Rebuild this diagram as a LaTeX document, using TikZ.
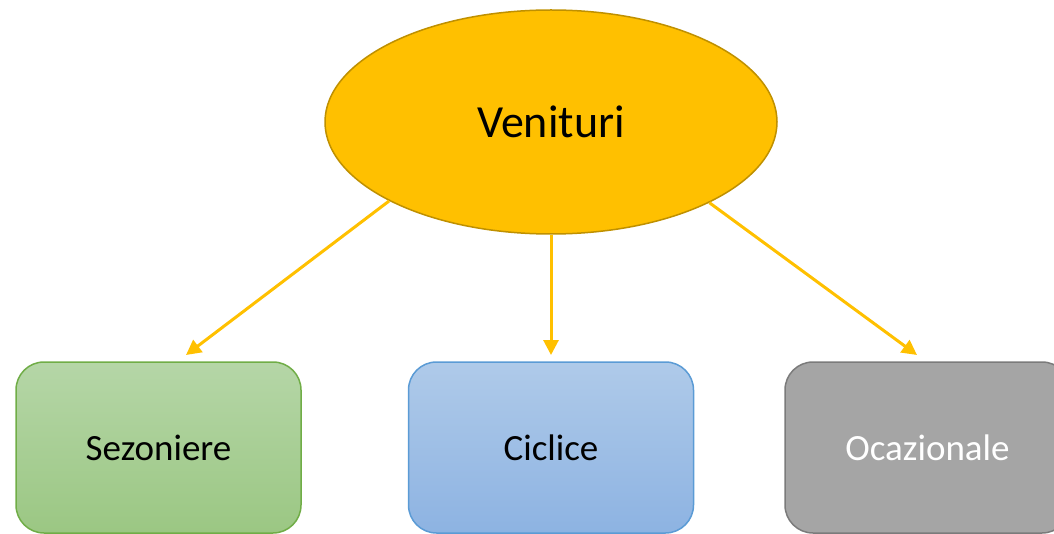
\documentclass[tikz,border=0pt]{standalone}
\usepackage{fontspec}
\setmainfont{Carlito}
\usetikzlibrary{arrows.meta,shapes.geometric}
\definecolor{gold}{HTML}{FFC000}
\definecolor{golddark}{HTML}{BF9000}
\definecolor{gtop}{HTML}{B5D6A7}
\definecolor{gbot}{HTML}{9BC783}
\definecolor{gline}{HTML}{70AD47}
\definecolor{btop}{HTML}{AFCAE9}
\definecolor{bbot}{HTML}{8DB3E2}
\definecolor{bline}{HTML}{5B9BD5}
\definecolor{grayfill}{HTML}{A5A5A5}
\definecolor{grayline}{HTML}{7B7B7B}
\tikzset{
  catbox/.style={rounded corners=28pt, line width=1.5pt, minimum width=285pt, minimum height=171pt, inner sep=0pt, font=\fontsize{37}{40}\selectfont},
  conn/.style={draw=gold, line width=3pt, -{Triangle[length=15pt,width=15pt]}},
}
\begin{document}
\begin{tikzpicture}[x=1pt,y=-1pt]
\useasboundingbox (0,0) rectangle (1054,534);
\clip (0,0) rectangle (1054,534);
\node[ellipse, draw=golddark, line width=1.5pt, fill=gold, minimum width=452pt, minimum height=224pt, inner sep=0pt, font=\fontsize{46}{50}\selectfont] (v) at (551,122) {Venituri};
\node[catbox, draw=gline, top color=gtop, bottom color=gbot] (s) at (158.5,447.5) {Sezoniere};
\node[catbox, draw=bline, top color=btop, bottom color=bbot] (c) at (551,447.5) {Ciclice};
\node[catbox, draw=grayline, fill=grayfill, text=white] (o) at (927.5,447.5) {Ocazionale};
\coordinate (ts) at (186,355);
\coordinate (tc) at (551,355);
\coordinate (to) at (917,355);
\draw[conn] (v.206.6) -- (ts);
\draw[conn] (v.south) -- (tc);
\draw[conn] (v.333.4) -- (to);
\end{tikzpicture}
\end{document}
